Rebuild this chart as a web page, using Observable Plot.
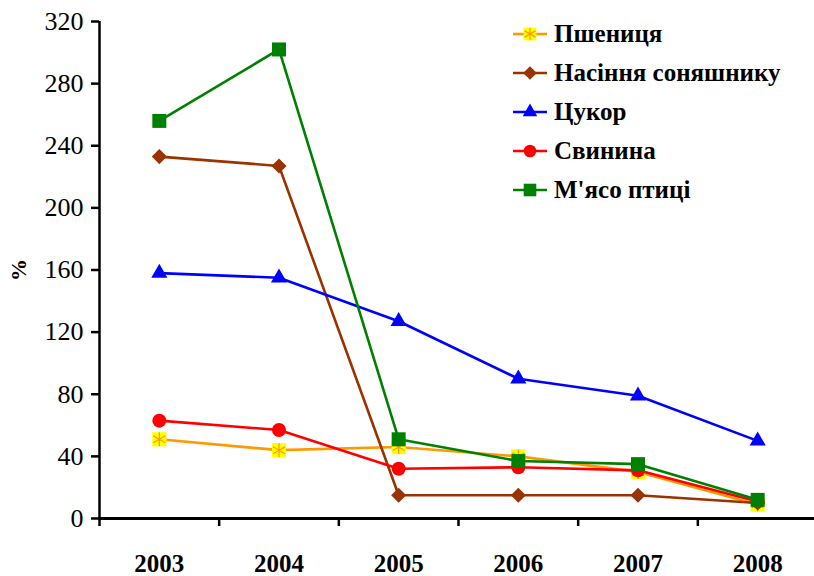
<!DOCTYPE html>
<html>
<head>
<meta charset="utf-8">
<script src="https://cdn.jsdelivr.net/npm/d3@7"></script>
<script src="https://cdn.jsdelivr.net/npm/@observablehq/plot@0.6"></script>
<style>
  body { margin: 0; background: #fff; font-family: 'Liberation Serif', 'Times New Roman', serif; }
  #wrap { position: relative; width: 814px; height: 576px; overflow: hidden; }
  #legend { position: absolute; left: 513px; top: 15px; font-family: 'Liberation Serif', 'Times New Roman', serif; font-weight: bold; font-size: 25px; color: #000; }
  .row { display: flex; align-items: center; height: 38.8px; white-space: nowrap; }
  .row svg { margin-right: 7px; flex: none; }
</style>
</head>
<body>
<div id="wrap"><div id="legend"></div></div>
<script>
// ---- data ----
const years = [2003, 2004, 2005, 2006, 2007, 2008];
const seriesNames = ["Пшениця", "Насіння соняшнику", "Цукор", "Свинина", "М'ясо птиці"];
const wheat     = [51, 44, 46, 40, 30, 9];
const sunflower = [233, 227, 15, 15, 15, 10];
const sugar     = [158, 155, 127, 90, 79, 50];
const pork      = [63, 57, 32, 33, 31, 11];
const poultry   = [256, 302, 51, 37, 35, 12];
const yTicks    = [0, 40, 80, 120, 160, 200, 240, 280, 320];
const yLabel    = "%";

// ---- styles ----
const seriesValues = [wheat, sunflower, sugar, pork, poultry];
const styles = [
  {stroke: "#FF9900", symbol: "square",   fill: "#FFFF00", r: 8,   overlay: {symbol: "asterisk", stroke: "#FF9900", r: 6.6}},
  {stroke: "#993300", symbol: "diamond2", fill: "#993300", r: 6.8},
  {stroke: "#0000FF", symbol: "triangle", fill: "#0000FF", r: 6},
  {stroke: "#FF0000", symbol: "circle",   fill: "#FF0000", r: 7},
  {stroke: "#008000", symbol: "square",   fill: "#008000", r: 7.9}
];
const font = "Liberation Serif";

const tables = seriesValues.map((vals, i) => years.map((year, j) => ({year, value: vals[j], series: seriesNames[i]})));
const bounds = years.map(y => y - 0.5);

const marks = [];
tables.forEach((data, i) => {
  const s = styles[i];
  marks.push(Plot.line(data, {x: "year", y: "value", stroke: s.stroke, strokeWidth: 2.6}));
  marks.push(Plot.dot(data, {x: "year", y: "value", symbol: s.symbol, fill: s.fill, stroke: "none", r: s.r}));
  if (s.overlay) {
    marks.push(Plot.dot(data, {x: "year", y: "value", symbol: s.overlay.symbol, fill: "none", stroke: s.overlay.stroke, strokeWidth: 1.2, r: s.overlay.r}));
  }
});

const chart = Plot.plot({
  width: 814,
  height: 576,
  marginLeft: 99,
  marginRight: 0,
  marginTop: 21,
  marginBottom: 58,
  style: {fontFamily: font, background: "#fff", color: "#000"},
  x: {domain: [2002.5, 2008.5], range: [99, 817]},
  y: {domain: [0, 320]},
  marks: [
    ...marks,
    Plot.ruleX([bounds[0]], {strokeWidth: 2.5}),
    Plot.ruleY([0], {strokeWidth: 3}),
    Plot.axisY(yTicks, {tickSize: 8, tickPadding: 8, strokeWidth: 2.5, fontSize: 26, fontFamily: font, label: null}),
    Plot.axisX(bounds, {tickSize: 8, strokeWidth: 2.5, tickFormat: () => "", label: null}),
    Plot.axisX(years, {tickSize: 0, tickPadding: 36, tickFormat: d => String(d), fontSize: 25, fontWeight: "bold", fontFamily: font, label: null}),
    Plot.text([yLabel], {frameAnchor: "left", textAnchor: "middle", rotate: -90, dx: -81, fontSize: 22, fontWeight: "bold", fontFamily: font, fill: "#000"})
  ]
});
document.getElementById("wrap").prepend(chart);

// ---- legend ----
const symbolMap = {square: d3.symbolSquare, diamond2: d3.symbolDiamond2, triangle: d3.symbolTriangle, circle: d3.symbolCircle, asterisk: d3.symbolAsterisk};
const legend = d3.select("#legend");
seriesNames.forEach((name, i) => {
  const s = styles[i];
  const row = legend.append("div").attr("class", "row");
  const svg = row.append("svg").attr("width", 34).attr("height", 20);
  svg.append("line").attr("x1", 0).attr("x2", 34).attr("y1", 10).attr("y2", 10).attr("stroke", s.stroke).attr("stroke-width", 2.6);
  const k = 0.9;
  svg.append("path").attr("transform", "translate(17,10)")
    .attr("d", d3.symbol(symbolMap[s.symbol], Math.PI * (s.r * k) ** 2)())
    .attr("fill", s.fill);
  if (s.overlay) {
    svg.append("path").attr("transform", "translate(17,10)")
      .attr("d", d3.symbol(symbolMap[s.overlay.symbol], Math.PI * (s.overlay.r * k) ** 2)())
      .attr("fill", "none").attr("stroke", s.overlay.stroke).attr("stroke-width", 1.2);
  }
  row.append("span").text(name);
});
</script>
</body>
</html>
